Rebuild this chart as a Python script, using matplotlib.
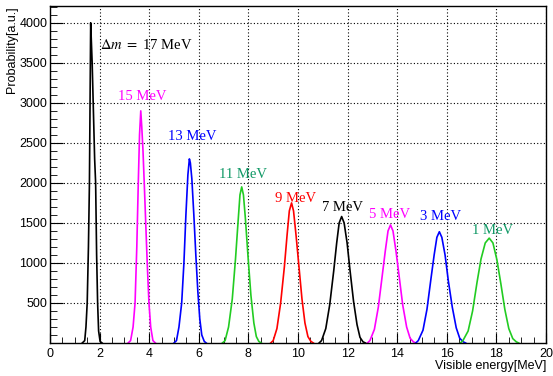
import numpy as np
import matplotlib
matplotlib.use("Agg")
import matplotlib.pyplot as plt
from matplotlib.ticker import MultipleLocator

plt.rcParams["mathtext.fontset"] = "stix"

# -------- peaks (energy [MeV], counts) --------
e17 = [1.30, 1.40, 1.45, 1.50, 1.55, 1.59, 1.62, 1.64, 1.67, 1.70, 1.75, 1.80, 1.84, 1.88, 1.92, 1.96, 2.02, 2.10]
p17 = [0, 30, 200, 500, 1200, 2000, 3200, 4000, 3750, 3500, 2900, 2300, 2000, 1100, 500, 150, 20, 0]

e15 = [3.15, 3.25, 3.35, 3.43, 3.50, 3.56, 3.61, 3.66, 3.70, 3.75, 3.80, 3.86, 3.92, 3.99, 4.06, 4.15, 4.25]
p15 = [0, 30, 200, 500, 1200, 2000, 2600, 2900, 2700, 2400, 2000, 1500, 1000, 500, 200, 30, 0]

e13 = [5.00, 5.10, 5.20, 5.31, 5.40, 5.48, 5.56, 5.62, 5.66, 5.72, 5.80, 5.88, 5.96, 6.04, 6.12, 6.22, 6.30]
p13 = [0, 30, 200, 500, 1000, 1600, 2100, 2300, 2250, 2050, 1600, 1100, 650, 300, 100, 20, 0]

e11 = [6.95, 7.06, 7.20, 7.35, 7.48, 7.58, 7.66, 7.73, 7.80, 7.88, 7.98, 8.10, 8.22, 8.32, 8.42, 8.52]
p11 = [0, 30, 200, 550, 1050, 1500, 1850, 1950, 1850, 1550, 1100, 600, 250, 80, 20, 0]

e9 = [8.90, 9.00, 9.15, 9.30, 9.45, 9.56, 9.65, 9.74, 9.82, 9.92, 10.04, 10.16, 10.28, 10.40, 10.52, 10.62]
p9 = [0, 30, 180, 500, 950, 1350, 1650, 1750, 1650, 1350, 950, 550, 250, 80, 20, 0]

e7 = [10.85, 10.95, 11.12, 11.28, 11.44, 11.56, 11.66, 11.76, 11.86, 11.98, 12.10, 12.24, 12.38, 12.50, 12.62, 12.72]
p7 = [0, 30, 180, 480, 900, 1250, 1500, 1580, 1500, 1250, 900, 520, 230, 70, 15, 0]

e5 = [12.80, 12.90, 13.08, 13.24, 13.40, 13.52, 13.63, 13.73, 13.83, 13.95, 14.08, 14.22, 14.38, 14.52, 14.65, 14.75]
p5 = [0, 30, 170, 450, 850, 1150, 1400, 1475, 1400, 1150, 830, 480, 200, 60, 15, 0]

e3 = [14.75, 14.85, 15.04, 15.20, 15.36, 15.49, 15.60, 15.70, 15.80, 15.93, 16.06, 16.22, 16.38, 16.52, 16.66, 16.76]
p3 = [0, 30, 160, 420, 800, 1100, 1320, 1390, 1320, 1100, 780, 450, 190, 60, 15, 0]

e1 = [16.55, 16.65, 16.86, 17.04, 17.22, 17.38, 17.55, 17.71, 17.86, 18.02, 18.18, 18.34, 18.50, 18.66, 18.80, 18.90]
p1 = [0, 30, 150, 400, 760, 1050, 1250, 1310, 1250, 1040, 740, 420, 180, 55, 15, 0]

labels = [r"$\Delta m\ =\ $17 MeV", "15 MeV", "13 MeV", "11 MeV", "9 MeV",
          "7 MeV", "5 MeV", "3 MeV", "1 MeV"]
label_x = [2.0, 3.7, 5.75, 7.8, 9.9, 11.8, 13.7, 15.75, 17.85]
label_y = [3720, 3080, 2580, 2110, 1810, 1690, 1600, 1580, 1400]

GREEN = "#22cc22"
TEAL = "#119966"
line_colors = ["black", "magenta", "blue", GREEN, "red", "black", "magenta", "blue", GREEN]
text_colors = ["black", "magenta", "blue", TEAL, "red", "black", "magenta", "blue", TEAL]

energies = [e17, e15, e13, e11, e9, e7, e5, e3, e1]
counts = [p17, p15, p13, p11, p9, p7, p5, p3, p1]

fig = plt.figure(figsize=(5.53, 3.76), dpi=100)
ax = fig.add_axes([50 / 553, 33 / 376, 496 / 553, 337 / 376])

for x, y, c in zip(energies, counts, line_colors):
    ax.plot(x, y, color=c, lw=1.2)

for i, lab in enumerate(labels):
    ha = "left" if i == 0 else "center"
    ax.text(label_x[i], label_y[i], lab, color=text_colors[i], ha=ha, va="center",
            fontsize=10.5, family="Liberation Serif")

ax.set_xlim(0, 20)
ax.set_ylim(0, 4210)
ax.xaxis.set_major_locator(MultipleLocator(2))
ax.xaxis.set_minor_locator(MultipleLocator(0.5))
ax.set_yticks([500, 1000, 1500, 2000, 2500, 3000, 3500, 4000])
ax.yaxis.set_minor_locator(MultipleLocator(100))
ax.tick_params(which="both", direction="in", top=False, right=False, labelsize=9)
ax.tick_params(axis="y", which="major", length=9, pad=2)
ax.tick_params(axis="y", which="minor", length=5)
ax.tick_params(axis="x", which="major", length=7)
ax.tick_params(axis="x", which="minor", length=4)
for t in ax.get_xticklabels() + ax.get_yticklabels():
    t.set_family("Liberation Sans")

ax.grid(True, which="major", color="black", ls=(0, (1, 2)), lw=0.8)
for s in ax.spines.values():
    s.set_linewidth(1.0)

fig.text(12 / 553, 1 - 6 / 376, "Probability[a.u.]", rotation=90, ha="center", va="top",
         fontsize=9, family="Liberation Sans")
fig.text(546 / 553, 1 - 366 / 376, "Visible energy[MeV]", ha="right", va="center",
         fontsize=9, family="Liberation Sans")

fig.savefig("out.png", dpi=100)
